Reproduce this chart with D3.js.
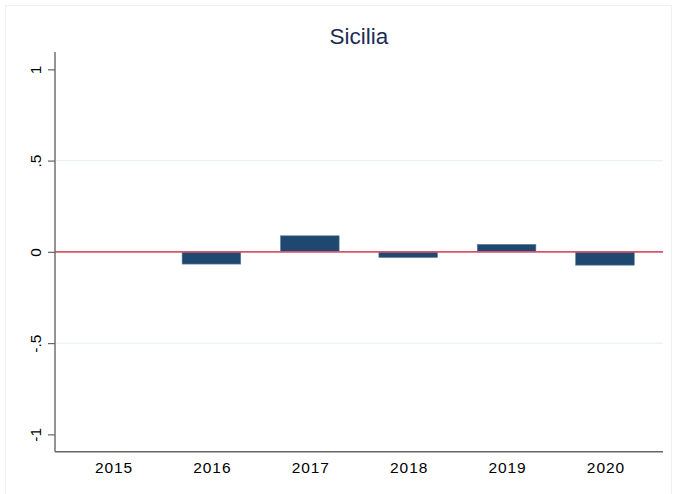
<!DOCTYPE html>
<html>
<head>
<meta charset="utf-8">
<script src="https://cdn.jsdelivr.net/npm/d3@7"></script>
<style>
  html, body { margin: 0; padding: 0; background: #fff; }
  svg { display: block; }
  text { font-family: "Liberation Sans", Arial, Helvetica, sans-serif; }
</style>
</head>
<body>
<div id="chart"></div>
<script>
const title = "Sicilia";
const years = [2015, 2016, 2017, 2018, 2019, 2020];
const values = [null, -0.067, 0.088, -0.031, 0.041, -0.073];
const yTicks = [-1, -0.5, 0, 0.5, 1];
const yTickLabels = ["-1", "-.5", "0", ".5", "1"];
const gridValues = [-0.5, 0.5];

(function () {
const W = 675, H = 494;
const svg = d3.select("#chart").append("svg").attr("width", W).attr("height", H);

// outer faint frame
svg.append("rect").attr("x", 5.5).attr("y", 5.5).attr("width", 666).attr("height", 500)
  .attr("fill", "none").attr("stroke", "#eef0f2").attr("stroke-width", 1);

const pLeft = 55, pRight = 663, pTop = 52, pBottom = 451.7;
const x = d3.scaleLinear().domain([2014.41, 2020.59]).range([pLeft, pRight]);
const y = d3.scaleLinear().domain([-1.095, 1.095]).range([pBottom, pTop]);
const barW = 0.596;

// grid lines
svg.append("g").selectAll("line").data(gridValues).join("line")
  .attr("x1", pLeft).attr("x2", pRight)
  .attr("y1", d => y(d)).attr("y2", d => y(d))
  .attr("stroke", "#eaf2f3").attr("stroke-width", 1.2);

// bars
const data = years.map((yr, i) => ({ yr, v: values[i] })).filter(d => d.v !== null);
svg.append("g").selectAll("rect").data(data).join("rect")
  .attr("x", d => x(d.yr - barW / 2))
  .attr("width", d => x(d.yr + barW / 2) - x(d.yr - barW / 2))
  .attr("y", d => y(Math.max(0, d.v)))
  .attr("height", d => Math.abs(y(d.v) - y(0)))
  .attr("fill", "#1f4870").attr("stroke", "#5d7e9c").attr("stroke-width", 0.6);

// zero reference line
svg.append("line").attr("x1", pLeft).attr("x2", pRight)
  .attr("y1", y(0)).attr("y2", y(0))
  .attr("stroke", "#d5566b").attr("stroke-width", 1.6);

// y axis
const yAxis = d3.axisLeft(y).tickValues(yTicks).tickSize(7).tickPadding(0)
  .tickFormat((d, i) => yTickLabels[i]);
const gy = svg.append("g").attr("transform", `translate(${pLeft},0)`).call(yAxis);
gy.select(".domain").attr("d", `M0,${pTop}V${pBottom}`).attr("stroke", "#666").attr("stroke-width", 1.4);
gy.selectAll(".tick line").attr("stroke", "#666").attr("stroke-width", 1.2);
gy.selectAll(".tick text")
  .attr("x", 0).attr("dy", null)
  .attr("transform", "translate(-14.3,0) rotate(-90)")
  .attr("text-anchor", "middle")
  .attr("font-size", 15.5).attr("fill", "#000");

// x axis
const xAxis = d3.axisBottom(x).tickValues(years).tickSize(0).tickPadding(10)
  .tickFormat(d3.format("d"));
const gx = svg.append("g").attr("transform", `translate(0,${pBottom})`).call(xAxis);
gx.select(".domain").attr("d", `M${pLeft},0H${pRight}`).attr("stroke", "#666").attr("stroke-width", 1.4);
gx.selectAll(".tick text").attr("font-size", 15.5).attr("letter-spacing", "0.9px")
  .attr("dx", "0.45px").attr("fill", "#000");

// title
svg.append("text").attr("x", 359).attr("y", 43.5).attr("text-anchor", "middle")
  .attr("font-size", 22.5).attr("fill", "#1c2d55").text(title);
})();
</script>
</body>
</html>
